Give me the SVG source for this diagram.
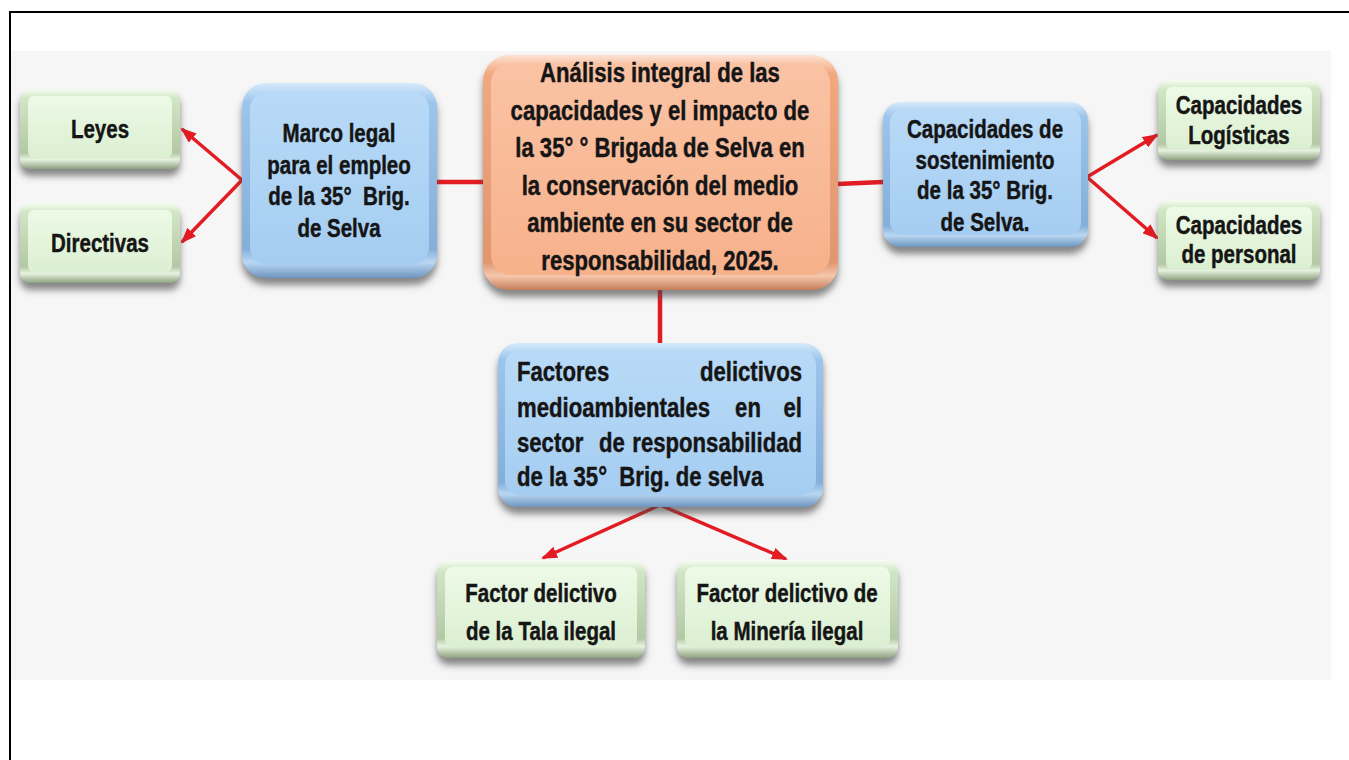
<svg xmlns="http://www.w3.org/2000/svg" width="1349" height="760" viewBox="0 0 1349 760">
<style>
.t{font-family:"Liberation Sans",Arial,sans-serif;font-weight:bold;fill:#151515;stroke:#151515;stroke-width:0.45;font-size:25px;text-anchor:middle;white-space:pre}
.big{font-size:27px}
.s{text-anchor:start}
.e{text-anchor:end}
.ln{stroke:#e31b23;stroke-width:4.5;fill:none}
.ar{stroke:#e31b23;stroke-width:3.5;fill:none;marker-end:url(#ah)}
.ge{fill:url(#gEdge)}
.gf{fill:url(#gFace)}
.be{fill:url(#bEdge)}
.bf{fill:url(#bFace)}
.oe{fill:url(#oEdge)}
.of{fill:url(#oFace)}
</style>
<defs>
<filter id="sh" x="-10%" y="-10%" width="120%" height="135%">
<feGaussianBlur in="SourceAlpha" stdDeviation="3.5"/>
<feOffset dy="7" result="b"/>
<feFlood flood-color="#4a4a4a" flood-opacity="0.65"/>
<feComposite in2="b" operator="in"/>
<feMerge><feMergeNode/><feMergeNode in="SourceGraphic"/></feMerge>
</filter>
<linearGradient id="gEdge" x1="0" y1="0" x2="0" y2="1">
<stop offset="0" stop-color="#f6fdf2"/><stop offset="0.12" stop-color="#d0e6c4"/><stop offset="0.8" stop-color="#b3c9a5"/><stop offset="0.88" stop-color="#e6f3de"/><stop offset="1" stop-color="#8ea281"/>
</linearGradient>
<linearGradient id="gFace" x1="0" y1="0" x2="0" y2="1">
<stop offset="0" stop-color="#edfae7"/><stop offset="1" stop-color="#dbefd1"/>
</linearGradient>
<linearGradient id="bEdge" x1="0" y1="0" x2="0" y2="1">
<stop offset="0" stop-color="#d6eafb"/><stop offset="0.1" stop-color="#9cc5ec"/><stop offset="0.85" stop-color="#84afda"/><stop offset="0.92" stop-color="#b9d7f2"/><stop offset="1" stop-color="#6d95bf"/>
</linearGradient>
<linearGradient id="bFace" x1="0" y1="0" x2="0" y2="1">
<stop offset="0" stop-color="#b8daf7"/><stop offset="1" stop-color="#a5cdf1"/>
</linearGradient>
<linearGradient id="oEdge" x1="0" y1="0" x2="0" y2="1">
<stop offset="0" stop-color="#fde2d2"/><stop offset="0.08" stop-color="#f1a87f"/><stop offset="0.88" stop-color="#e0966e"/><stop offset="0.94" stop-color="#f6c7ad"/><stop offset="1" stop-color="#c47d58"/>
</linearGradient>
<linearGradient id="oFace" x1="0" y1="0" x2="0" y2="1">
<stop offset="0" stop-color="#fac3a4"/><stop offset="1" stop-color="#f7b18b"/>
</linearGradient>
<marker id="ah" viewBox="0 0 16 12" refX="14" refY="6" markerWidth="16" markerHeight="12" markerUnits="userSpaceOnUse" orient="auto">
<path d="M0,0 L16,6 L0,12 Z" fill="#e31b23"/>
</marker>
</defs>

<rect x="11" y="51" width="1320" height="629" fill="#f6f6f6"/>
<path d="M9,12 H1349 M10,12 V760" stroke="#000" stroke-width="2" fill="none"/>

<g id="connectors">
<line class="ln" x1="437" y1="182" x2="484" y2="182"/>
<line class="ln" x1="837" y1="184" x2="883" y2="182"/>
<line class="ln" x1="660" y1="289" x2="660" y2="344"/>
<path class="ar" d="M242,180 L182,129"/>
<path class="ar" d="M242,180 L182,242"/>
<path class="ar" d="M1087,177 L1157,135"/>
<path class="ar" d="M1087,177 L1157,238"/>
<path class="ar" d="M660,505 L543,558"/>
<path class="ar" d="M660,505 L786,559"/>
</g>

<g id="n-leyes">
<rect class="ge" x="20" y="89" width="160" height="80" rx="10" filter="url(#sh)"/>
<rect class="gf" x="28" y="96" width="144" height="62" rx="6"/>
<text class="t" transform="translate(100,138) scale(0.82,1)">Leyes</text>
</g>

<g id="n-directivas">
<rect class="ge" x="20" y="203" width="160" height="80" rx="10" filter="url(#sh)"/>
<rect class="gf" x="28" y="210" width="144" height="62" rx="6"/>
<text class="t" transform="translate(100,252) scale(0.82,1)">Directivas</text>
</g>

<g id="n-marco">
<rect class="be" x="242" y="83" width="195" height="195" rx="24" filter="url(#sh)"/>
<rect class="bf" x="250" y="91" width="179" height="174" rx="18"/>
<text class="t" transform="translate(339,142) scale(0.82,1)">Marco legal</text>
<text class="t" transform="translate(339,174) scale(0.82,1)">para el empleo</text>
<text class="t" transform="translate(339,205) scale(0.82,1)">de la 35°  Brig.</text>
<text class="t" transform="translate(339,237) scale(0.82,1)">de Selva</text>
</g>

<g id="n-central">
<rect class="oe" x="483" y="55" width="355" height="235" rx="26" filter="url(#sh)"/>
<rect class="of" x="491" y="63" width="339" height="212" rx="20"/>
<text class="t big" transform="translate(660,82) scale(0.82,1)">Análisis integral de las</text>
<text class="t big" transform="translate(660,120) scale(0.82,1)">capacidades y el impacto de</text>
<text class="t big" transform="translate(660,157) scale(0.82,1)">la 35° ° Brigada de Selva en</text>
<text class="t big" transform="translate(660,195) scale(0.82,1)">la conservación del medio</text>
<text class="t big" transform="translate(660,232) scale(0.82,1)">ambiente en su sector de</text>
<text class="t big" transform="translate(660,270) scale(0.82,1)">responsabilidad, 2025.</text>
</g>

<g id="n-sostenimiento">
<rect class="be" x="883" y="102" width="205" height="145" rx="18" filter="url(#sh)"/>
<rect class="bf" x="890" y="109" width="191" height="126" rx="13"/>
<text class="t" transform="translate(985,138) scale(0.82,1)">Capacidades de</text>
<text class="t" transform="translate(985,169) scale(0.82,1)">sostenimiento</text>
<text class="t" transform="translate(985,199) scale(0.82,1)">de la 35° Brig.</text>
<text class="t" transform="translate(985,231) scale(0.82,1)">de Selva.</text>
</g>

<g id="n-logisticas">
<rect class="ge" x="1158" y="80" width="162" height="80" rx="10" filter="url(#sh)"/>
<rect class="gf" x="1166" y="87" width="146" height="62" rx="6"/>
<text class="t" transform="translate(1239,114) scale(0.82,1)">Capacidades</text>
<text class="t" transform="translate(1239,144) scale(0.82,1)">Logísticas</text>
</g>

<g id="n-personal">
<rect class="ge" x="1158" y="200" width="162" height="80" rx="10" filter="url(#sh)"/>
<rect class="gf" x="1166" y="207" width="146" height="62" rx="6"/>
<text class="t" transform="translate(1239,234) scale(0.82,1)">Capacidades</text>
<text class="t" transform="translate(1239,263) scale(0.82,1)">de personal</text>
</g>

<g id="n-factores">
<rect class="be" x="498" y="343" width="325" height="164" rx="20" filter="url(#sh)"/>
<rect class="bf" x="505" y="350" width="311" height="145" rx="15"/>
<text class="t big s" transform="translate(517,381) scale(0.82,1)">Factores</text>
<text class="t big e" transform="translate(802,381) scale(0.82,1)">delictivos</text>
<text class="t big s" transform="translate(517,417) scale(0.82,1)">medioambientales</text>
<text class="t big" transform="translate(748,417) scale(0.82,1)">en</text>
<text class="t big e" transform="translate(802,417) scale(0.82,1)">el</text>
<text class="t big s" transform="translate(517,452) scale(0.82,1)">sector</text>
<text class="t big" transform="translate(612,452) scale(0.82,1)">de</text>
<text class="t big e" transform="translate(802,452) scale(0.82,1)">responsabilidad</text>
<text class="t big s" transform="translate(517,486) scale(0.82,1)">de la 35°  Brig. de selva</text>
</g>

<g id="n-tala">
<rect class="ge" x="437" y="560" width="208" height="98" rx="12" filter="url(#sh)"/>
<rect class="gf" x="445" y="567" width="192" height="80" rx="8"/>
<text class="t" transform="translate(541,602) scale(0.82,1)">Factor delictivo</text>
<text class="t" transform="translate(541,640) scale(0.82,1)">de la Tala ilegal</text>
</g>

<g id="n-mineria">
<rect class="ge" x="677" y="560" width="221" height="98" rx="12" filter="url(#sh)"/>
<rect class="gf" x="685" y="567" width="205" height="80" rx="8"/>
<text class="t" transform="translate(787,602) scale(0.82,1)">Factor delictivo de</text>
<text class="t" transform="translate(787,640) scale(0.82,1)">la Minería ilegal</text>
</g>
</svg>
